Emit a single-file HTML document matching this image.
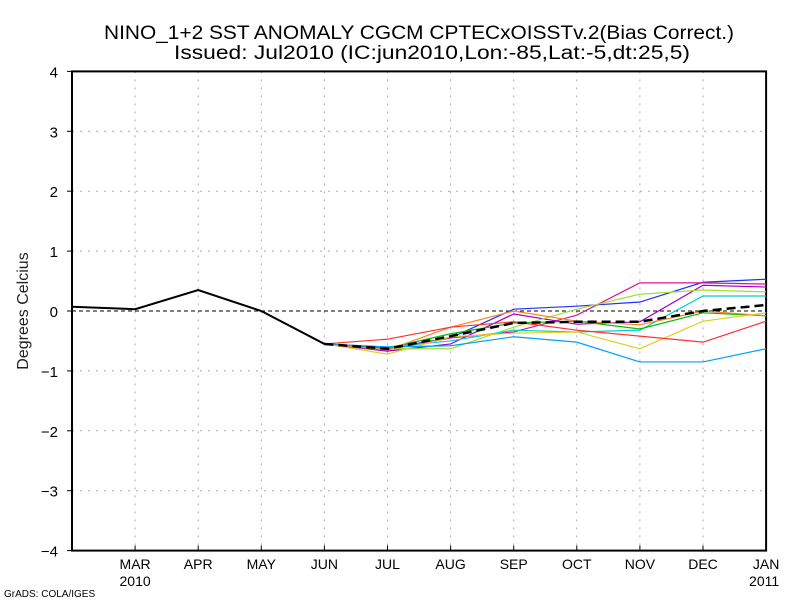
<!DOCTYPE html>
<html><head><meta charset="utf-8"><style>
body{margin:0;background:#fff;}
svg text{font-family:"Liberation Sans",sans-serif;}
</style></head><body>
<svg id="chart" width="800" height="600" xmlns="http://www.w3.org/2000/svg">
<rect width="800" height="600" fill="#fff"/>
<text x="104" y="39" textLength="630" lengthAdjust="spacingAndGlyphs" font-size="19">NINO_1+2 SST ANOMALY CGCM CPTECxOISSTv.2(Bias Correct.)</text>
<text x="174" y="59" textLength="516" lengthAdjust="spacingAndGlyphs" font-size="19">Issued:  Jul2010 (IC:jun2010,Lon:-85,Lat:-5,dt:25,5)</text>
<text transform="translate(28,311) rotate(-90)" text-anchor="middle" font-size="16" fill="#222">Degrees Celcius</text>
<text x="4" y="597" font-size="10">GrADS: COLA/IGES</text>
<g id="grid"></g><g id="axes"></g><g id="series"></g>
</svg>
<script>
const monthLabels=["FEB","MAR","APR","MAY","JUN","JUL","AUG","SEP","OCT","NOV","DEC","JAN"];
const yTicks=[-4,-3,-2,-1,0,1,2,3,4];
const observed=[0.07,0.03,0.35,0.0,-0.55];
const memberColors=["#2030ff","#e0109a","#a000d0","#a0e030","#00d0d0","#00c000","#ff8020","#e0d020","#ff3030","#00a0ff"];
const memBlue=[-0.55,-0.62,-0.45,0.03,0.08,0.15,0.48,0.53];
const memMagenta=[-0.55,-0.65,-0.45,-0.35,-0.07,0.47,0.47,0.45];
const memPurple=[-0.55,-0.67,-0.55,-0.05,-0.22,-0.18,0.43,0.4];
const memYellowGreen=[-0.55,-0.63,-0.63,-0.27,0.03,0.28,0.35,0.32];
const memCyan=[-0.55,-0.6,-0.5,-0.32,-0.35,-0.32,0.25,0.25];
const memGreen=[-0.55,-0.62,-0.38,-0.2,-0.17,-0.3,-0.03,-0.08];
const memOrange=[-0.55,-0.65,-0.27,0.0,-0.17,-0.23,0.0,-0.08];
const memYellow=[-0.55,-0.72,-0.43,-0.37,-0.35,-0.63,-0.17,-0.03];
const memRed=[-0.55,-0.47,-0.27,-0.18,-0.32,-0.42,-0.52,-0.17];
const memSky=[-0.55,-0.6,-0.58,-0.43,-0.52,-0.85,-0.85,-0.63];
const ensMean=[-0.55,-0.63,-0.42,-0.2,-0.18,-0.18,0.0,0.1];
const members=[memBlue,memMagenta,memPurple,memYellowGreen,memCyan,memGreen,memOrange,memYellow,memRed,memSky];
const X0=72,DX=63.1,Y0=311,DY=59.9;
const xs=i=>X0+i*DX, ys=v=>Y0-v*DY;
const NS="http://www.w3.org/2000/svg";
function mk(tag,attrs,parent){const e=document.createElementNS(NS,tag);for(const k in attrs)e.setAttribute(k,attrs[k]);parent.appendChild(e);return e;}
const grid=document.getElementById('grid'),axes=document.getElementById('axes'),ser=document.getElementById('series');
monthLabels.forEach((m,i)=>{
  if(i>0&&i<11){const l=mk('line',{x1:xs(i),x2:xs(i),y1:ys(4),y2:ys(-4),stroke:'#aaa','stroke-dasharray':'2,6'},grid);
  
  }
  if(i>0){const t=mk('text',{x:xs(i),y:569,'text-anchor':'middle','font-size':14},axes);t.textContent=m;
  
  
  mk('line',{x1:xs(i),x2:xs(i),y1:ys(-4),y2:ys(-4)-5,stroke:'#000'},axes);}
});
yTicks.forEach(v=>{
  if(v!==0&&v>-4&&v<4){const l=mk('line',{x1:xs(0),x2:xs(11),y1:ys(v),y2:ys(v),stroke:'#aaa','stroke-dasharray':'2,6'},grid);
  
  }
  const t=mk('text',{x:58,y:ys(v)+6,'text-anchor':'end','font-size':15},axes);t.textContent=v<0?'\u2212'+(-v):String(v);
  
  
  mk('line',{x1:xs(0)-5,x2:xs(0),y1:ys(v),y2:ys(v),stroke:'#000'},axes);
});
[["2010",1],["2011",11]].forEach(([y,i])=>{const t=mk('text',{x:xs(i)-(i==11?2:0),y:586,'text-anchor':'middle','font-size':14},axes);t.textContent=y;

});
const z=mk('line',{x1:xs(0),x2:xs(11),y1:ys(0),y2:ys(0),stroke:'#000','stroke-dasharray':'4,3','stroke-width':1},grid);


const frame=mk('rect',{x:xs(0),y:ys(4),width:xs(11)-xs(0),height:ys(-4)-ys(4),fill:'none',stroke:'#000','stroke-width':2},axes);


const pts=(arr,off)=>arr.map((v,i)=>xs(i+off)+','+ys(v)).join(' ');
members.forEach((m,k)=>{const p=mk('polyline',{points:pts(m,4),fill:'none',stroke:memberColors[k],'stroke-width':1.2},ser);

});
const mean=mk('polyline',{points:pts(ensMean,4),fill:'none',stroke:'#000','stroke-width':2.5,'stroke-dasharray':'9,5'},ser);


const obs=mk('polyline',{points:pts(observed,0),fill:'none',stroke:'#000','stroke-width':2},ser);


</script>
</body></html>
